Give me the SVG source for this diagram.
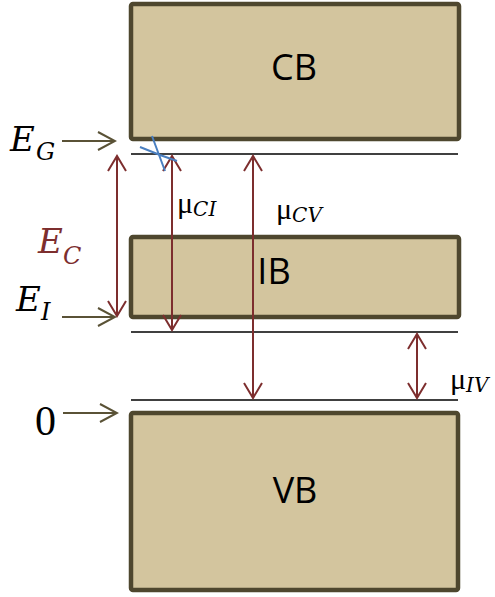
<svg xmlns="http://www.w3.org/2000/svg" width="495" height="597" viewBox="0 0 495 597">
<style>
.band{fill:#d3c59e;stroke:#4e472e;stroke-width:4.5}
.lbl{font-family:"Open Sans","Liberation Sans",sans-serif;font-size:36px;fill:#000;text-anchor:middle}
.lvl{stroke:#000;stroke-width:1.6}
.red{stroke:#7d2e2e;stroke-width:2;fill:none}
.olv{stroke:#5a5236;stroke-width:2;fill:none}
.m{font-family:"Liberation Serif","DejaVu Serif",serif}
.d{font-family:"DejaVu Serif","Liberation Serif",serif;font-style:italic}
.it{font-style:italic}
</style>
<defs>
<marker id="hr" viewBox="-16 -10 18 20" refX="0" refY="0" markerWidth="18" markerHeight="20" markerUnits="userSpaceOnUse" orient="auto-start-reverse">
<path d="M-15,-9 L0,0 L-15,9" fill="none" stroke="#7d2e2e" stroke-width="2"/>
</marker>
<marker id="ho" viewBox="-18 -10 20 20" refX="0" refY="0" markerWidth="20" markerHeight="20" markerUnits="userSpaceOnUse" orient="auto">
<path d="M-17,-9 L0,0 L-17,9" fill="none" stroke="#5a5236" stroke-width="2"/>
</marker>
</defs>
<g id="CB"><rect class="band" x="131" y="4" width="328" height="135" rx="2"/><text class="lbl" x="294" y="80">CB</text></g>
<g id="IB"><rect class="band" x="131" y="237" width="328" height="80" rx="2"/><text class="lbl" x="274" y="284">IB</text></g>
<g id="VB"><rect class="band" x="131" y="413" width="327" height="177" rx="2"/><text class="lbl" x="295" y="503">VB</text></g>
<g id="levels">
<line class="lvl" x1="131" y1="154" x2="458" y2="154"/>
<line class="lvl" x1="131" y1="332" x2="458" y2="332"/>
<line class="lvl" x1="131" y1="400" x2="458" y2="400"/>
</g>
<g id="connectors">
<line class="red" x1="117" y1="156" x2="117" y2="316" marker-start="url(#hr)" marker-end="url(#hr)"/>
<line class="red" x1="172" y1="156" x2="172" y2="330" marker-start="url(#hr)" marker-end="url(#hr)"/>
<line class="red" x1="253" y1="156" x2="253" y2="398" marker-start="url(#hr)" marker-end="url(#hr)"/>
<line class="red" x1="417" y1="334" x2="417" y2="398" marker-start="url(#hr)" marker-end="url(#hr)"/>
<line class="olv" x1="62" y1="141" x2="115" y2="141" marker-end="url(#ho)"/>
<line class="olv" x1="62" y1="317" x2="115" y2="317" marker-end="url(#ho)"/>
<line class="olv" x1="63" y1="413" x2="117" y2="413" marker-end="url(#ho)"/>
<path d="M140,147 L160,155 L177,161 M152,136 L165,171" fill="none" stroke="#4a7fc0" stroke-width="2"/>
</g>
<g id="labels">
<text class="d" x="10" y="151" font-size="34">E</text>
<text class="d" x="36" y="160" font-size="24">G</text>
<text class="d" x="38" y="253" font-size="34" fill="#7d2e2e">E</text>
<text class="d" x="63" y="264" font-size="24" fill="#7d2e2e">C</text>
<text class="d" x="16" y="311" font-size="34">E</text>
<text class="d" x="41" y="320" font-size="24">I</text>
<text class="m" x="35" y="435" font-size="42">0</text>
<text class="m" x="177" y="213" font-size="30">μ<tspan class="d" font-size="20" dy="3">CI</tspan></text>
<text class="m" x="276" y="219" font-size="30">μ<tspan class="d" font-size="20" dy="3">CV</tspan></text>
<text class="m" x="450" y="389" font-size="30">μ<tspan class="d" font-size="20" dy="3">IV</tspan></text>
</g>
</svg>
